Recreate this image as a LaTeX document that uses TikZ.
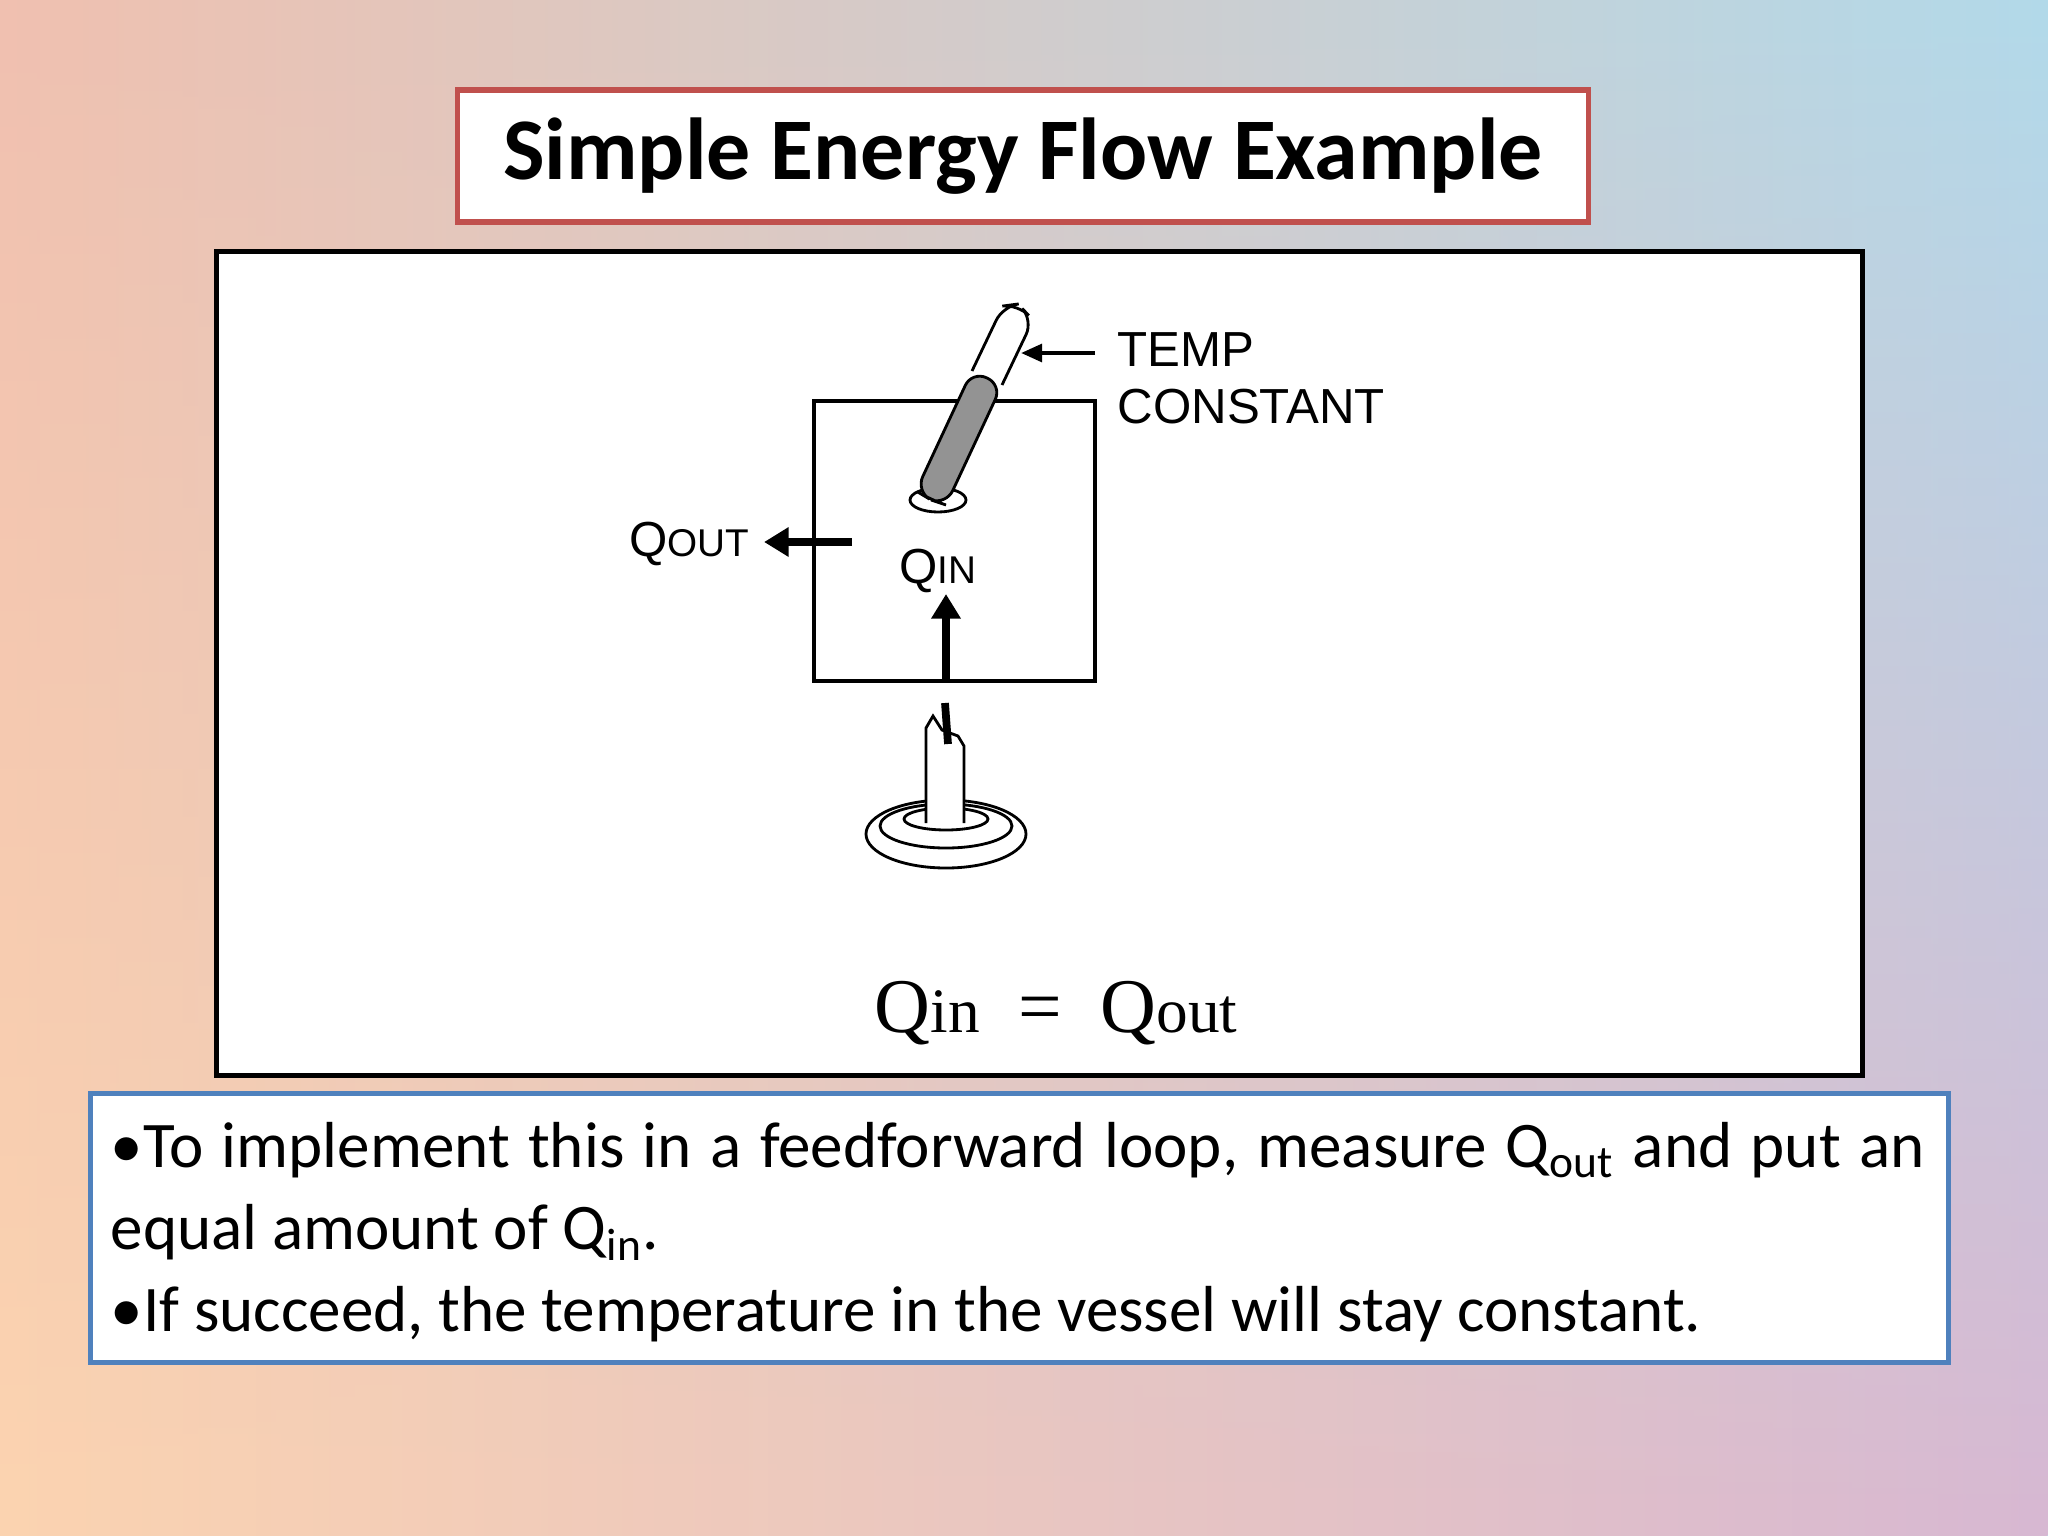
\documentclass[tikz,border=0pt]{standalone}
\usepackage{fontspec}
\setmainfont{Carlito}
\newfontfamily\arialf{Liberation Sans}
\newfontfamily\timesf{Liberation Serif}
\usetikzlibrary{arrows.meta,fadings}
\definecolor{ul}{HTML}{F0C0B0}
\definecolor{um}{HTML}{E2BCCC}
\definecolor{ur}{HTML}{B2DAEA}
\definecolor{ll}{HTML}{FCD4B0}
\definecolor{lr}{HTML}{D8B8D2}
\definecolor{redb}{HTML}{C0504D}
\definecolor{blueb}{HTML}{4F81BD}
\tikzset{
  lbl/.style={font=\arialf\fontsize{14}{16}\selectfont, inner sep=0pt},
  bigarrow/.style={line width=2.2pt, -{Triangle[length=7pt,width=8pt]}},
  outl/.style={line width=0.8pt},
}
\newcommand{\smc}[1]{{\fontsize{11}{12}\selectfont #1}}
\begin{document}
\begin{tikzpicture}[x=0.01cm,y=-0.01cm]
\useasboundingbox (0,0) rectangle (2048,1536);
\shade[left color=ul, middle color=um, right color=ur] (0,0) rectangle (2048,1536);
\shade[left color=ll, middle color=ll!50!lr, right color=lr, path fading=north] (0,0) rectangle (2048,1536);
% title
\node[draw=redb, line width=1.5pt, fill=white, minimum width=11.3cm, minimum height=1.32cm,
      font=\bfseries\fontsize{25}{30}\selectfont] (title) at (1023,156) {Simple Energy Flow Example};
% diagram frame
\node[draw=black, line width=1.5pt, fill=white, minimum width=16.45cm, minimum height=8.23cm] (frame) at (1039.5,663.5) {};
% vessel
\node[draw=black, line width=1.1pt, minimum width=2.81cm, minimum height=2.8cm, inner sep=0pt] (vessel) at (954.5,541) {};
% thermometer
\draw[outl] (938,500) ellipse (28 and 12);
\draw[outl, fill=white, rounded corners=4.5pt] (972,371) -- (1003,306) -- (1018,304) -- (1033,320) -- (1002,385);
\draw[outl, fill=gray!85, rounded corners=4.5pt] (972,371) -- (916,491) -- (931,500) -- (946,505) -- (1002,385) -- cycle;
\coordinate (tp) at (1021,353);
\node[lbl, anchor=base west] (temp) at (1117,366) {TEMP};
\node[lbl, anchor=base west] (const) at (1117,423) {CONSTANT};
\draw[line width=1.2pt, -{Triangle[length=6pt,width=5pt]}] (1095,353) -- (tp);
% Qout
\coordinate (qo) at (852,542);
\node[lbl, anchor=base east] (qout) at (750,556) {Q\smc{OUT}};
\draw[bigarrow] (qo) -- ([xshift=4pt]qout.east |- qo);
% Qin
\node[lbl, anchor=base] (qin) at (938,583) {Q\smc{IN}};
\coordinate (qs) at (946,681);
\draw[bigarrow] (qs) -- (946,594);
% candle
\draw[outl] (946,834) ellipse (80 and 34);
\draw[outl] (946,826) ellipse (66 and 22);
\draw[outl] (946,819) ellipse (42 and 11);
\draw[outl, fill=white] (926,823) -- (926,728) -- (933,716) -- (942,730) -- (958,736) -- (964,746) -- (964,823);
\draw[line width=2.2pt] (945,703) -- (948,744);
% equation
\node[font=\timesf\fontsize{22}{26}\selectfont, anchor=base, inner sep=0pt] (eq) at (1056,1032)
  {Q{\fontsize{18}{20}\selectfont in}\ \ =\ \ Q{\fontsize{18}{20}\selectfont out}};
% text box
\node[draw=blueb, line width=1.5pt, fill=white, minimum width=18.57cm, minimum height=2.69cm, anchor=north west] (tb) at (88,1091) {};
\node[anchor=north west, text width=18.13cm, align=justify, inner sep=0pt,
      font=\fontsize{18.5}{23.3}\selectfont] (txt) at (110,1122)
 {\textbullet To implement this in a feedforward loop, measure Q\textsubscript{out} and put an equal amount of Q\textsubscript{in}.\\
 \textbullet If succeed, the temperature in the vessel will stay constant.};
\end{tikzpicture}
\end{document}
